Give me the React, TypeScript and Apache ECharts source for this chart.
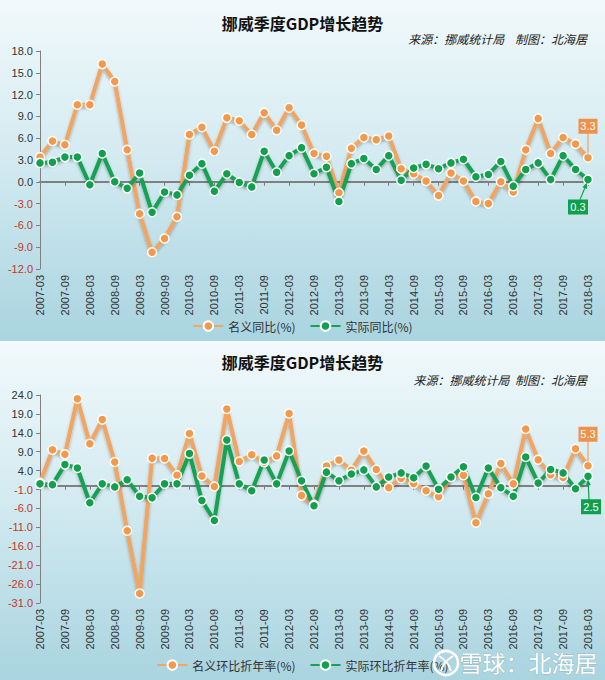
import React, { useEffect, useRef } from "react";
import * as echarts from "echarts";

const quarters = [
  "2007-03","2007-06","2007-09","2007-12","2008-03","2008-06","2008-09","2008-12",
  "2009-03","2009-06","2009-09","2009-12","2010-03","2010-06","2010-09","2010-12",
  "2011-03","2011-06","2011-09","2011-12","2012-03","2012-06","2012-09","2012-12",
  "2013-03","2013-06","2013-09","2013-12","2014-03","2014-06","2014-09","2014-12",
  "2015-03","2015-06","2015-09","2015-12","2016-03","2016-06","2016-09","2016-12",
  "2017-03","2017-06","2017-09","2017-12","2018-03",
];

// 上图：同比
const nominalYoY = [
  3.4, 5.6, 5.1, 10.6, 10.6, 16.2, 13.8, 4.4, -4.4, -9.7, -7.8, -4.8, 6.5, 7.5, 4.2,
  8.8, 8.4, 6.5, 9.5, 7.1, 10.2, 7.8, 3.9, 3.5, -1.5, 4.6, 6.1, 5.8, 6.3, 1.8,
  1.1, 0.1, -1.9, 1.2, 0.1, -2.7, -3.0, 0.0, -1.4, 4.4, 8.7, 3.9, 6.1, 5.2, 3.3,
];
const realYoY = [
  2.6, 2.7, 3.4, 3.4, -0.4, 3.9, 0.0, -0.9, 1.2, -4.2, -1.4, -1.8, 0.9, 2.5, -1.3,
  1.1, -0.1, -0.7, 4.2, 1.3, 3.6, 4.7, 1.1, 2.0, -2.7, 2.5, 3.2, 1.7, 3.6, 0.2,
  1.9, 2.4, 1.8, 2.6, 3.1, 0.7, 1.0, 2.8, -0.6, 1.7, 2.6, 0.3, 3.6, 1.7, 0.3,
];

// 下图：环比折年率
const nominalQoQ = [
  0.8, 9.5, 8.3, 23.0, 11.1, 17.5, 6.3, -11.9, -28.5, 7.3, 7.2, 2.8, 13.8, 2.6, -0.2,
  20.3, 6.4, 8.2, 6.2, 7.9, 19.1, -2.6, -5.0, 5.2, 6.8, 4.1, 9.2, 4.3, -0.5, 2.0,
  0.6, -1.3, -2.9, 2.3, 2.8, -9.8, -2.1, 5.9, 0.5, 15.0, 6.9, 2.9, 2.2, 9.8, 5.3,
];
const realQoQ = [
  0.5, 0.3, 5.6, 4.7, -4.5, 0.5, -0.3, 1.6, -2.8, -3.2, 0.5, 0.5, 8.5, -3.9, -9.2,
  12.1, 0.5, -1.3, 6.8, 0.5, 9.2, 1.3, -5.3, 3.6, 1.3, 3.1, 4.2, -0.3, 2.3, 3.4,
  2.1, 5.2, -0.9, 2.3, 5.0, -3.1, 4.7, -0.5, -2.8, 7.6, 0.7, 4.3, 3.4, -0.8, 2.5,
];

const topTicks = [-12, -9, -6, -3, 0, 3, 6, 9, 12, 15, 18];
const bottomTicks = [-31, -26, -21, -16, -11, -6, -1, 4, 9, 14, 19, 24];

const TITLE = "挪威季度GDP增长趋势";
const SUB_TOP = "来源：挪威统计局    制图：北海居";
const SUB_BOTTOM = "来源：挪威统计局  制图：北海居";
const NAMES_TOP = ["名义同比(%)", "实际同比(%)"];
const NAMES_BOTTOM = ["名义环比折年率(%)", "实际环比折年率(%)"];
const WATERMARK = "雪球：北海居";

const FONT = "'Liberation Sans', 'Noto Sans CJK SC', sans-serif";
const CJK = "'Noto Sans CJK SC', sans-serif";
const ORANGE_LINE = "#f2a462";
const ORANGE = "#f3994c";
const GREEN_LINE = "#18a253";
const GREEN = "#10a04e";
const RED = "#c0392b";
const AXIS = "#808080";

// 注释框形状（像素单位）
const BOX_DOWN = "path://M0,0 H19 V15 H0 Z M9,15 H10 V35 H9 Z";
const ARROW_UP_RIGHT =
  "path://M0,19 H20 V34 H0 Z M11.45,18.77 L12.55,19.23 L17.27,7.77 L16.17,7.31 Z M19.03,8.49 L19,2 L14.41,6.59 Z";
const ARROW_UP =
  "path://M0,22 H20 V37 H0 Z M7.4,22 L8.6,22 L7.9,8 L6.7,8 Z M9.8,7.9 L7,2 L4.8,8.1 Z";

function boxMark(value: number, cat: string, kind: "down" | "upRight" | "up", color: string) {
  let symbol = BOX_DOWN;
  let size: number[] = [19, 35];
  let off: number[] = [0, -21.5];
  let lab: number[] = [0, -10];
  if (kind === "upRight") {
    symbol = ARROW_UP_RIGHT;
    size = [20, 32];
    off = [-10, 19];
    lab = [0, 8.5];
  } else if (kind === "up") {
    symbol = ARROW_UP;
    size = [20, 35];
    off = [3, 20.5];
    lab = [0, 10];
  }
  return {
    silent: true,
    symbol,
    symbolSize: size,
    symbolOffset: off,
    itemStyle: { color, borderWidth: 0, shadowBlur: 0 },
    label: {
      show: true,
      position: "inside",
      offset: lab,
      color: "#fff",
      fontSize: 11,
      fontFamily: FONT,
      formatter: (p: any) => Number(p.value).toFixed(1),
    },
    data: [{ coord: [cat, value], value }],
  };
}

function lineSeries(name: string, data: number[], lineColor: string, dotColor: string, xi: number, yi: number, mark: any) {
  return {
    type: "line",
    name,
    data,
    xAxisIndex: xi,
    yAxisIndex: yi,
    symbol: "circle",
    symbolSize: 9,
    showAllSymbol: true,
    lineStyle: {
      width: 4,
      color: lineColor,
      shadowColor: "rgba(0,0,0,0.28)",
      shadowBlur: 3,
      shadowOffsetY: 2,
    },
    itemStyle: { color: dotColor, borderColor: "#ffffff", borderWidth: 1.5 },
    emphasis: { disabled: true },
    markPoint: mark,
  };
}

function yLabel(v: any) {
  return Number(v).toFixed(1);
}
function yColor(v: any) {
  return Number(v) < 0 ? RED : "#333";
}

function xAxes(gridIndex: number) {
  return [
    {
      gridIndex,
      type: "category",
      data: quarters,
      boundaryGap: false,
      position: "bottom",
      axisLine: { show: false, onZero: false },
      axisTick: { show: false },
      axisLabel: { rotate: 90, interval: 1, fontSize: 11, color: "#333", margin: 6, fontFamily: FONT },
      splitLine: { show: false },
    },
    {
      gridIndex,
      type: "category",
      data: quarters,
      boundaryGap: false,
      position: "top",
      axisLine: { show: true, onZero: true, lineStyle: { color: AXIS, width: 2 } },
      axisTick: { show: true, inside: true, interval: 1, length: 4, lineStyle: { color: AXIS } },
      axisLabel: { show: false },
      splitLine: { show: false },
    },
  ];
}

export default function App() {
  const ref = useRef<HTMLDivElement>(null);

  useEffect(() => {
    if (!ref.current) return;
    const chart = echarts.init(ref.current, undefined, { renderer: "svg" });
    const last = quarters.length - 1;
    const lastCat = quarters[last];

    const legendBase = {
      left: "center",
      itemWidth: 30,
      itemHeight: 12,
      itemGap: 14,
      textStyle: { fontSize: 12, color: "#333", fontFamily: CJK },
    };

    chart.setOption({
      animation: false,
      textStyle: { fontFamily: FONT },
      title: [
        { text: TITLE, left: "center", top: 10, textStyle: { fontSize: 16, fontWeight: "bold", color: "#111", fontFamily: CJK } },
        { text: SUB_TOP, right: 13, top: 27, textStyle: { fontSize: 12, fontStyle: "italic", fontWeight: "normal", color: "#222", fontFamily: CJK } },
        { text: TITLE, left: "center", top: 349, textStyle: { fontSize: 16, fontWeight: "bold", color: "#111", fontFamily: CJK } },
        { text: SUB_BOTTOM, right: 13, top: 368, textStyle: { fontSize: 12, fontStyle: "italic", fontWeight: "normal", color: "#222", fontFamily: CJK } },
      ],
      legend: [
        { ...legendBase, data: NAMES_TOP, top: 315 },
        { ...legendBase, data: NAMES_BOTTOM, top: 654 },
      ],
      grid: [
        { left: 40, top: 51, width: 548, height: 218 },
        { left: 40, top: 395, width: 548, height: 208 },
      ],
      xAxis: [...xAxes(0), ...xAxes(1)],
      yAxis: [
        {
          gridIndex: 0,
          type: "value",
          min: topTicks[0],
          max: topTicks[topTicks.length - 1],
          interval: 3,
          axisLine: { show: true, lineStyle: { color: AXIS } },
          axisTick: { show: true, length: 4, lineStyle: { color: AXIS } },
          splitLine: { show: false },
          axisLabel: { formatter: yLabel, color: yColor, fontSize: 11, margin: 7, fontFamily: FONT },
        },
        {
          gridIndex: 1,
          type: "value",
          min: bottomTicks[0],
          max: bottomTicks[bottomTicks.length - 1],
          axisLine: { show: true, lineStyle: { color: AXIS } },
          axisTick: { show: true, length: 4, lineStyle: { color: AXIS }, customValues: bottomTicks },
          splitLine: { show: false },
          axisLabel: { formatter: yLabel, color: yColor, fontSize: 11, margin: 7, fontFamily: FONT, customValues: bottomTicks },
        },
      ],
      series: [
        lineSeries(NAMES_TOP[0], nominalYoY, ORANGE_LINE, ORANGE, 0, 0,
          boxMark(nominalYoY[last], lastCat, "down", "#f0914a")),
        lineSeries(NAMES_TOP[1], realYoY, GREEN_LINE, GREEN, 0, 0,
          boxMark(realYoY[last], lastCat, "upRight", "#0fa04e")),
        lineSeries(NAMES_BOTTOM[0], nominalQoQ, ORANGE_LINE, ORANGE, 2, 1,
          boxMark(nominalQoQ[last], lastCat, "down", "#f0914a")),
        lineSeries(NAMES_BOTTOM[1], realQoQ, GREEN_LINE, GREEN, 2, 1,
          boxMark(realQoQ[last], lastCat, "up", "#0fa04e")),
      ],
      graphic: [
        {
          type: "circle",
          z: 100,
          silent: true,
          shape: { cx: 446, cy: 663, r: 12 },
          style: { fill: "rgba(255,255,255,0)", stroke: "#ffffff", lineWidth: 2.5 },
        },
        {
          type: "bezierCurve",
          z: 100,
          silent: true,
          shape: { x1: 439, y1: 656, x2: 451, y2: 671, cpx1: 448, cpy1: 661 },
          style: { fill: "none", stroke: "#ffffff", lineWidth: 2 },
        },
        {
          type: "bezierCurve",
          z: 100,
          silent: true,
          shape: { x1: 453, y1: 656, x2: 441, y2: 671, cpx1: 444, cpy1: 661 },
          style: { fill: "none", stroke: "#ffffff", lineWidth: 2 },
        },
        {
          type: "text",
          z: 100,
          silent: true,
          right: 7,
          top: 650,
          style: {
            text: WATERMARK,
            fontSize: 23,
            fontFamily: CJK,
            fill: "#ffffff",
            stroke: "rgba(80,110,125,0.3)",
            lineWidth: 1,
          },
        },
      ],
    });

    return () => chart.dispose();
  }, []);

  return (
    <div style={{ position: "fixed", left: 0, top: 0, width: 605, height: 680 }}>
      <div
        style={{
          position: "absolute",
          left: 0,
          top: 0,
          width: 605,
          height: 341,
          background: "linear-gradient(to bottom, #f1f9fb 0%, #d4ebf1 45%, #a9d4e0 100%)",
        }}
      />
      <div
        style={{
          position: "absolute",
          left: 0,
          top: 341,
          width: 605,
          height: 339,
          background: "linear-gradient(to bottom, #f1f9fb 0%, #d4ebf1 45%, #a9d4e0 100%)",
        }}
      />
      <div ref={ref} style={{ position: "absolute", left: 0, top: 0, width: 605, height: 680 }} />
    </div>
  );
}
